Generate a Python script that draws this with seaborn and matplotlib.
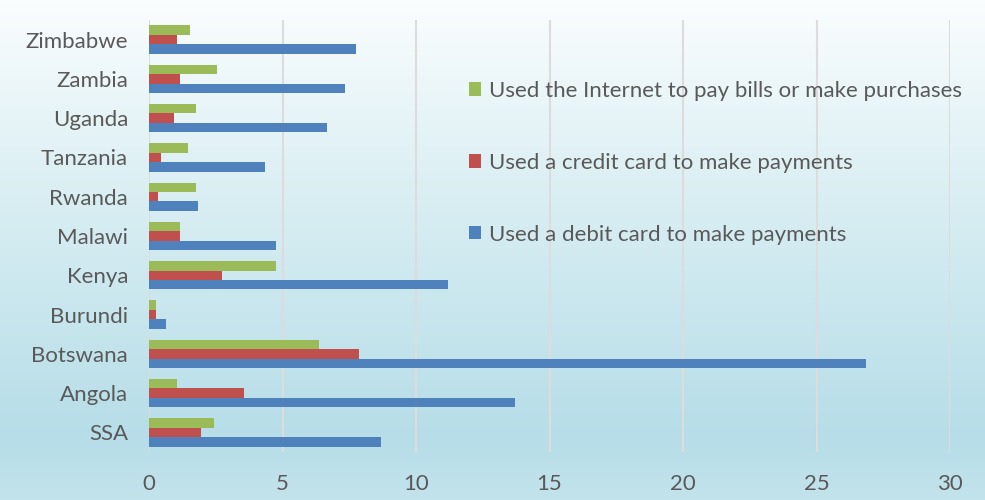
import numpy as np
import pandas as pd
import matplotlib
matplotlib.use("Agg")
import matplotlib.pyplot as plt
import seaborn as sns
from matplotlib.colors import LinearSegmentedColormap

countries = ["Zimbabwe", "Zambia", "Uganda", "Tanzania", "Rwanda", "Malawi",
             "Kenya", "Burundi", "Botswana", "Angola", "SSA"]
internet = [1.55, 2.55, 1.75, 1.45, 1.75, 1.15, 4.75, 0.25, 6.35, 1.05, 2.45]
credit = [1.05, 1.15, 0.95, 0.45, 0.35, 1.15, 2.75, 0.25, 7.85, 3.55, 1.95]
debit = [7.75, 7.35, 6.65, 4.35, 1.85, 4.75, 11.2, 0.65, 26.85, 13.7, 8.7]
series_names = ["Used the Internet to pay bills or make purchases",
                "Used a credit card to make payments",
                "Used a debit card to make payments"]
xticks = [0, 5, 10, 15, 20, 25, 30]

df = pd.DataFrame({"Country": countries * 3,
                   "Series": [series_names[0]] * 11 + [series_names[1]] * 11 + [series_names[2]] * 11,
                   "Value": internet + credit + debit})

sns.set_style("white")
plt.rcParams['font.family'] = ['Lato', 'DejaVu Sans']

fig = plt.figure(figsize=(9.85, 5), dpi=100)
# background gradient
bg = fig.add_axes([0, 0, 1, 1], zorder=0)
cmap = LinearSegmentedColormap.from_list("bg", [(0, "#fafdfe"), (0.4, "#d9eef3"),
                                                (0.88, "#b6dde8"), (1.0, "#c3e3ec")])
yy = np.linspace(0, 1, 500)[:, None]
bg.imshow(yy, aspect="auto", cmap=cmap, extent=[0, 1, 1, 0])
bg.axis("off")

ax = fig.add_axes([149 / 985, 48 / 500, (950 - 149) / 985, (452 - 20) / 500], zorder=1)
ax.patch.set_alpha(0)
palette = {series_names[0]: "#9bbb59", series_names[1]: "#c0504d", series_names[2]: "#4f81bd"}
sns.barplot(data=df, y="Country", x="Value", hue="Series", hue_order=series_names,
            order=countries, palette=palette, orient="h", width=0.72, ax=ax,
            saturation=1, edgecolor="none", zorder=3)

ax.set_xlim(0, 30)
ax.set_ylim(len(countries) - 0.5, -0.5)
ax.set_xticks(xticks)
ax.set_xticklabels([str(t) for t in xticks])
ax.xaxis.grid(True, color="#dcdcdc", linewidth=1.5, zorder=0)
ax.yaxis.grid(False)
ax.set_axisbelow(True)
for s in ax.spines.values():
    s.set_visible(False)
ax.set_xlabel("")
ax.set_ylabel("")
ax.tick_params(axis="both", length=0, labelsize=16, labelcolor="#595959")
ax.tick_params(axis="x", pad=16)
ax.tick_params(axis="y", pad=15)

handles, labels = ax.get_legend_handles_labels()
ax.legend(handles, labels, loc="upper left", bbox_to_anchor=((469 - 149) / (950 - 149), 1 - (81 - 20) / 432),
          frameon=False, fontsize=16, labelcolor="#595959", labelspacing=2.33,
          handlelength=0.55, handleheight=0.55, handletextpad=0.35, borderaxespad=0,
          borderpad=0)

fig.savefig("out.png", dpi=100)
